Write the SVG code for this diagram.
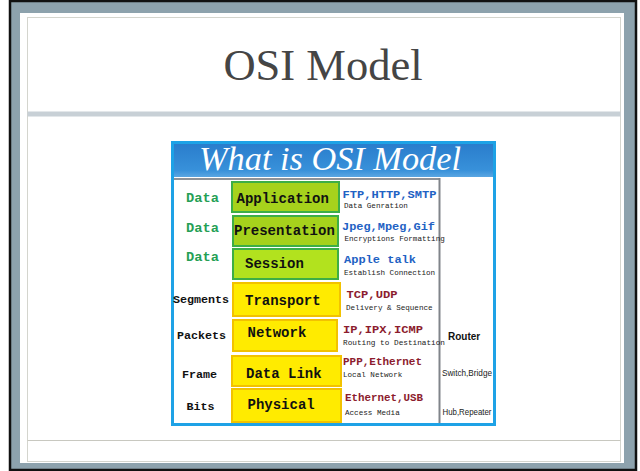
<svg xmlns="http://www.w3.org/2000/svg" width="640" height="471" viewBox="0 0 640 471">
<defs>
<linearGradient id="hdr" x1="0" y1="0" x2="0" y2="1">
<stop offset="0" stop-color="#2a7dcc"/>
<stop offset="0.8" stop-color="#3891da"/>
<stop offset="1" stop-color="#5aa6e2"/>
</linearGradient>
<style>
.lay{font-family:"Liberation Mono",monospace;font-weight:bold;font-size:14px;fill:#111}
.pdu{font-family:"Liberation Mono",monospace;font-weight:bold;font-size:11.7px;fill:#111}
.data{font-family:"Liberation Mono",monospace;font-weight:bold;font-size:13.7px;fill:#25a055}
.pb{font-family:"Liberation Mono",monospace;font-weight:bold;font-size:11.5px;fill:#1f62c4}
.pr{font-family:"Liberation Mono",monospace;font-weight:bold;font-size:11px;fill:#8c1c2e}
.desc{font-family:"Liberation Mono",monospace;font-size:7.6px;fill:#222}
.dev{font-family:"Liberation Sans",Arial,sans-serif;font-size:9.5px;fill:#222}
.g{fill:#a6d21c;stroke:#3dae46;stroke-width:2}
.y{fill:#ffeb00;stroke:#f2c200;stroke-width:2}
</style>
</defs>
<rect x="0" y="0" width="640" height="471" fill="#ffffff"/>
<rect x="10" y="1" width="626" height="469" fill="#8da2ad" stroke="#111" stroke-width="2.5"/>
<rect x="20" y="13" width="604" height="450" fill="#ffffff"/>
<rect x="27.5" y="17.5" width="593" height="444" fill="none" stroke="#d4d5ce" stroke-width="1"/>
<rect x="27.5" y="111.5" width="593" height="5" fill="#c8d0d6"/>
<line x1="27.5" y1="440.5" x2="620.5" y2="440.5" stroke="#c8c8c0" stroke-width="1"/>
<text x="323" y="80" text-anchor="middle" font-family="Liberation Serif,serif" font-size="44.5" fill="#454545">OSI Model</text>

<g id="osi-figure">
<rect x="172.5" y="142.5" width="322" height="282" fill="#ffffff" stroke="#1ea2e6" stroke-width="3"/>
<rect x="174" y="144" width="319" height="33" fill="url(#hdr)"/>
<text x="330" y="170" text-anchor="middle" font-family="Liberation Serif,serif" font-style="italic" font-size="34" fill="#ffffff" textLength="262" lengthAdjust="spacingAndGlyphs">What is OSI Model</text>
<line x1="174" y1="179" x2="440" y2="179" stroke="#8e9298" stroke-width="2"/>
<line x1="439.5" y1="178" x2="439.5" y2="423" stroke="#80848a" stroke-width="2"/>
</g>

<g id="application">
<rect class="g" x="232" y="182" width="107" height="30"/>
<text class="data" x="186" y="202">Data</text>
<text class="lay" x="236.5" y="203">Application</text>
<text class="pb" x="342.5" y="198" textLength="94" lengthAdjust="spacingAndGlyphs">FTP,HTTP,SMTP</text>
<text class="desc" x="344" y="208">Data Genration</text>
</g>
<g id="presentation">
<rect class="g" x="233" y="216" width="105" height="30"/>
<text class="data" x="186" y="232">Data</text>
<text class="lay" x="234" y="235">Presentation</text>
<text class="pb" x="342" y="230" textLength="93" lengthAdjust="spacingAndGlyphs">Jpeg,Mpeg,Gif</text>
<text class="desc" x="344.5" y="241">Encryptions Formatting</text>
</g>
<g id="session">
<rect class="g" x="233" y="249" width="105" height="30" style="fill:#b2e21e"/>
<text class="data" x="186" y="261">Data</text>
<text class="lay" x="245" y="268">Session</text>
<text class="pb" x="344" y="263" textLength="72" lengthAdjust="spacingAndGlyphs">Apple talk</text>
<text class="desc" x="344" y="275">Establish Connection</text>
</g>
<g id="transport">
<rect class="y" x="233" y="283" width="107" height="33"/>
<text class="pdu" x="173" y="303">Segments</text>
<text class="lay" x="245" y="305">Transport</text>
<text class="pr" x="346.5" y="297.5" textLength="51" lengthAdjust="spacingAndGlyphs">TCP,UDP</text>
<text class="desc" x="346" y="310">Delivery &amp; Sequence</text>
</g>
<g id="network">
<rect class="y" x="233" y="320" width="104" height="31"/>
<text class="pdu" x="177" y="339">Packets</text>
<text class="lay" x="247.5" y="336.5">Network</text>
<text class="pr" x="343" y="333" textLength="80" lengthAdjust="spacingAndGlyphs">IP,IPX,ICMP</text>
<text class="desc" x="343" y="344.5" textLength="102" lengthAdjust="spacingAndGlyphs">Routing to Destination</text>
<text x="448" y="339.5" font-family="Liberation Sans,Arial,sans-serif" font-weight="bold" font-size="10" fill="#111">Router</text>
</g>
<g id="datalink">
<rect class="y" x="232" y="356" width="109" height="30"/>
<text class="pdu" x="182" y="378">Frame</text>
<text class="lay" x="246" y="377.5">Data Link</text>
<text class="pr" x="343" y="364.5" textLength="79" lengthAdjust="spacingAndGlyphs">PPP,Ethernet</text>
<text class="desc" x="343" y="377">Local Network</text>
<text class="dev" x="442" y="376" textLength="50" lengthAdjust="spacingAndGlyphs">Switch,Bridge</text>
</g>
<g id="physical">
<rect class="y" x="232" y="389" width="109" height="33"/>
<text class="pdu" x="186.5" y="410">Bits</text>
<text class="lay" x="247.5" y="409">Physical</text>
<text class="pr" x="345" y="401" textLength="78" lengthAdjust="spacingAndGlyphs">Ethernet,USB</text>
<text class="desc" x="345" y="414.5">Access Media</text>
<text class="dev" x="442.5" y="414.5" textLength="49" lengthAdjust="spacingAndGlyphs">Hub,Repeater</text>
</g>
<g id="connectors"/>
</svg>
